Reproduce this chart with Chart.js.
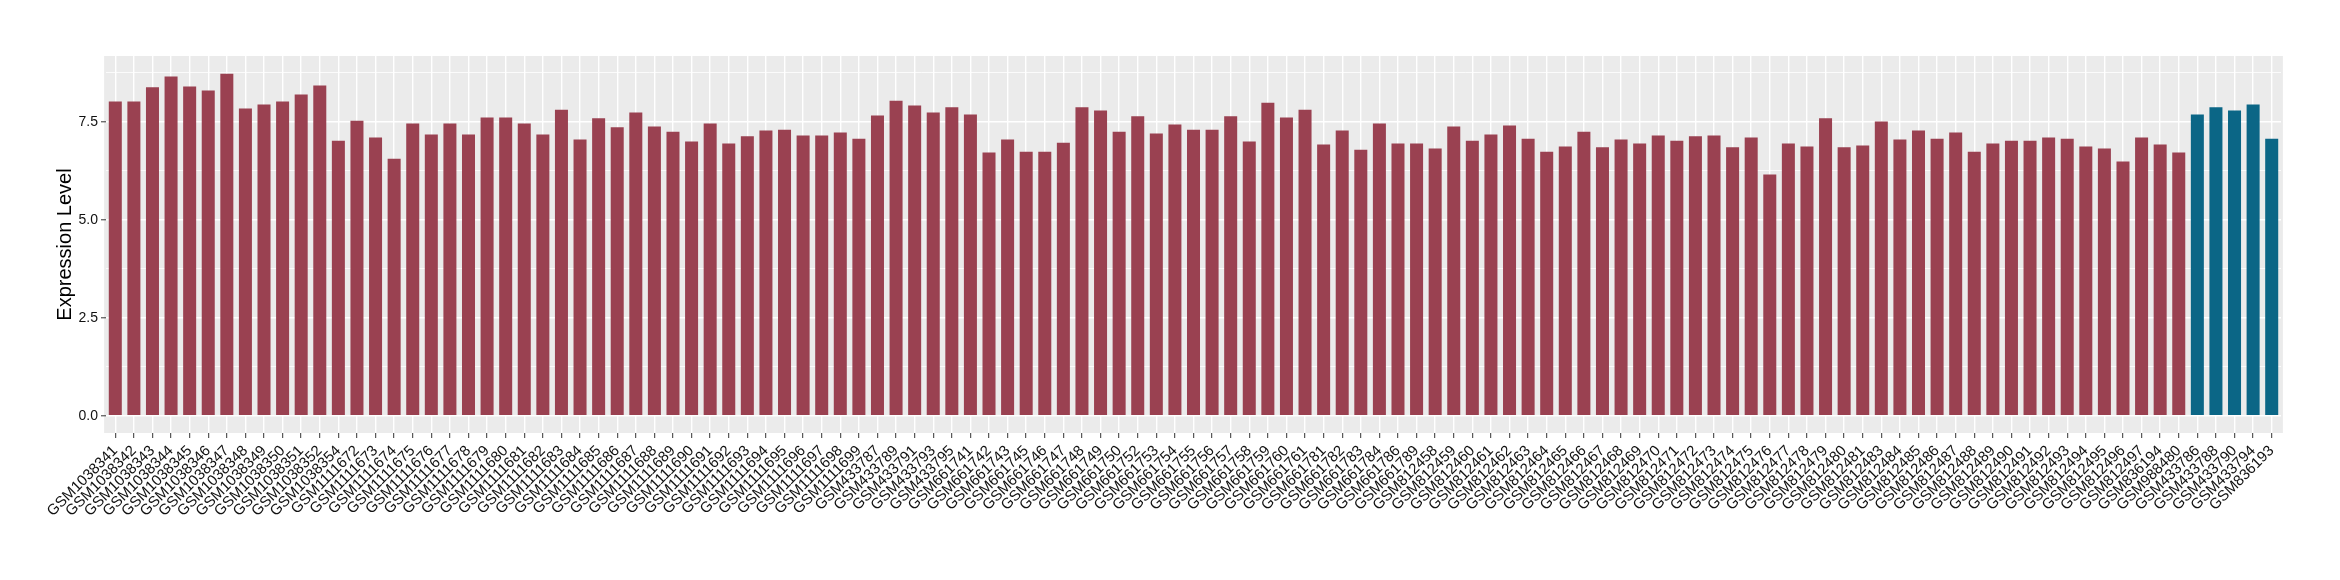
<!DOCTYPE html>
<html>
<head>
<meta charset="utf-8">
<script src="https://cdn.jsdelivr.net/npm/chart.js@4.4.1/dist/chart.umd.min.js"></script>
<style>
  html, body { margin: 0; padding: 0; background: #fff; }
  #wrap { width: 2340px; height: 580px; }
</style>
</head>
<body>
<div id="wrap"><canvas id="chart" width="2340" height="580"></canvas></div>
<script>
// Sample ids (x axis)
const samples = [
    "GSM1038341", "GSM1038342", "GSM1038343", "GSM1038344", "GSM1038345", "GSM1038346", "GSM1038347",
    "GSM1038348", "GSM1038349", "GSM1038350", "GSM1038351", "GSM1038352", "GSM1038354",
    "GSM1111672", "GSM1111673", "GSM1111674", "GSM1111675", "GSM1111676", "GSM1111677", "GSM1111678",
    "GSM1111679", "GSM1111680", "GSM1111681", "GSM1111682", "GSM1111683", "GSM1111684", "GSM1111685",
    "GSM1111686", "GSM1111687", "GSM1111688", "GSM1111689", "GSM1111690", "GSM1111691", "GSM1111692",
    "GSM1111693", "GSM1111694", "GSM1111695", "GSM1111696", "GSM1111697", "GSM1111698", "GSM1111699",
    "GSM433787", "GSM433789", "GSM433791", "GSM433793", "GSM433795",
    "GSM661741", "GSM661742", "GSM661743", "GSM661745", "GSM661746", "GSM661747", "GSM661748",
    "GSM661749", "GSM661750", "GSM661752", "GSM661753", "GSM661754", "GSM661755", "GSM661756",
    "GSM661757", "GSM661758", "GSM661759", "GSM661760", "GSM661761", "GSM661781", "GSM661782",
    "GSM661783", "GSM661784", "GSM661786", "GSM661789",
    "GSM812458", "GSM812459", "GSM812460", "GSM812461", "GSM812462", "GSM812463", "GSM812464",
    "GSM812465", "GSM812466", "GSM812467", "GSM812468", "GSM812469", "GSM812470", "GSM812471",
    "GSM812472", "GSM812473", "GSM812474", "GSM812475", "GSM812476", "GSM812477", "GSM812478",
    "GSM812479", "GSM812480", "GSM812481", "GSM812483", "GSM812484", "GSM812485", "GSM812486",
    "GSM812487", "GSM812488", "GSM812489", "GSM812490", "GSM812491", "GSM812492", "GSM812493",
    "GSM812494", "GSM812495", "GSM812496", "GSM812497",
    "GSM836194", "GSM988480",
    "GSM433786", "GSM433788", "GSM433790", "GSM433794", "GSM836193"
];

// Expression level per sample
const expression = [
    8.02, 8.02, 8.38, 8.66, 8.40, 8.30, 8.73, 7.84, 7.94, 8.02, 8.20, 8.43, 7.02,
    7.53, 7.10, 6.56, 7.46, 7.18, 7.46, 7.18, 7.61, 7.61, 7.46, 7.18, 7.81, 7.05, 7.59,
    7.36, 7.74, 7.38, 7.25, 7.00, 7.46, 6.95, 7.13, 7.28, 7.30, 7.15, 7.15, 7.23, 7.07,
    7.66, 8.04, 7.92, 7.74, 7.87,
    7.69, 6.72, 7.05, 6.74, 6.74, 6.97, 7.87, 7.79, 7.25, 7.64, 7.20, 7.43, 7.30, 7.30,
    7.64, 7.00, 7.99, 7.61, 7.81, 6.92, 7.28, 6.79, 7.46, 6.95, 6.95,
    6.82, 7.38, 7.02, 7.18, 7.41, 7.07, 6.74, 6.87, 7.25, 6.85, 7.05, 6.95, 7.15, 7.02,
    7.13, 7.15, 6.85, 7.10, 6.16, 6.95, 6.87, 7.59, 6.85, 6.90, 7.51, 7.05, 7.28, 7.07,
    7.23, 6.74, 6.95, 7.02, 7.02, 7.10, 7.07, 6.87, 6.82, 6.49, 7.10,
    6.92, 6.72,
    7.69, 7.87, 7.79, 7.94, 7.07
];

// Samples drawn in the second colour
const highlighted = ["GSM433786", "GSM433788", "GSM433790", "GSM433794", "GSM836193"];

// Y axis ticks and limits
const yMajorTicks = [0, 2.5, 5, 7.5];
const yMinorTicks = [1.25, 3.75, 6.25, 8.75];
const yLimits = [-0.437, 9.18];

const RED = "#9a4151";
const BLUE = "#0b6686";

Chart.defaults.font.family = "'Liberation Sans', Arial, sans-serif";

// grey panel behind the plot, like ggplot
const panelBackground = {
    id: "panelBackground",
    beforeDraw(chart) {
        const { ctx, chartArea } = chart;
        const pad = chartArea.width / samples.length * 0.1;
        ctx.save();
        ctx.fillStyle = "#ebebeb";
        ctx.fillRect(chartArea.left - pad, chartArea.top, chartArea.width + pad * 2, chartArea.height);
        ctx.restore();
    }
};

const isMajor = v => yMajorTicks.includes(v);

new Chart(document.getElementById("chart").getContext("2d"), {
    type: "bar",
    data: {
        labels: samples,
        datasets: [{
            data: expression,
            backgroundColor: samples.map(s => highlighted.includes(s) ? BLUE : RED),
            barPercentage: 0.7,
            categoryPercentage: 1.0
        }]
    },
    options: {
        responsive: false,
        animation: false,
        devicePixelRatio: 1,
        layout: { padding: { left: 45, right: 59, top: 56, bottom: 0 } },
        plugins: {
            legend: { display: false },
            tooltip: { enabled: false }
        },
        scales: {
            x: {
                grid: { offset: false, color: "#ffffff", lineWidth: 1.4, tickColor: "#333333", tickWidth: 1, tickLength: 5 },
                border: { display: false },
                ticks: { autoSkip: false, maxRotation: 45, minRotation: 45, font: { size: 15 }, color: "#111111", padding: 4 },
                afterFit: scale => { scale.height = 147; }
            },
            y: {
                min: yLimits[0],
                max: yLimits[1],
                afterBuildTicks: scale => {
                    scale.ticks = [...yMajorTicks, ...yMinorTicks].sort((a, b) => a - b).map(v => ({ value: v }));
                },
                afterFit: scale => { scale.width = 61; },
                grid: {
                    color: "#ffffff",
                    lineWidth: ctx => isMajor(ctx.tick.value) ? 1.6 : 0.8,
                    tickColor: ctx => isMajor(ctx.tick.value) ? "#333333" : "rgba(0,0,0,0)",
                    tickWidth: 1,
                    tickLength: 5
                },
                border: { display: false },
                ticks: {
                    autoSkip: false,
                    callback: v => isMajor(v) ? v.toFixed(1) : "",
                    font: { size: 14 },
                    color: "#111111",
                    padding: 3
                },
                title: {
                    display: true,
                    text: "Expression Level",
                    font: { size: 20 },
                    color: "#000000",
                    padding: { top: 8, bottom: 0 }
                }
            }
        }
    },
    plugins: [panelBackground]
});
</script>
</body>
</html>
